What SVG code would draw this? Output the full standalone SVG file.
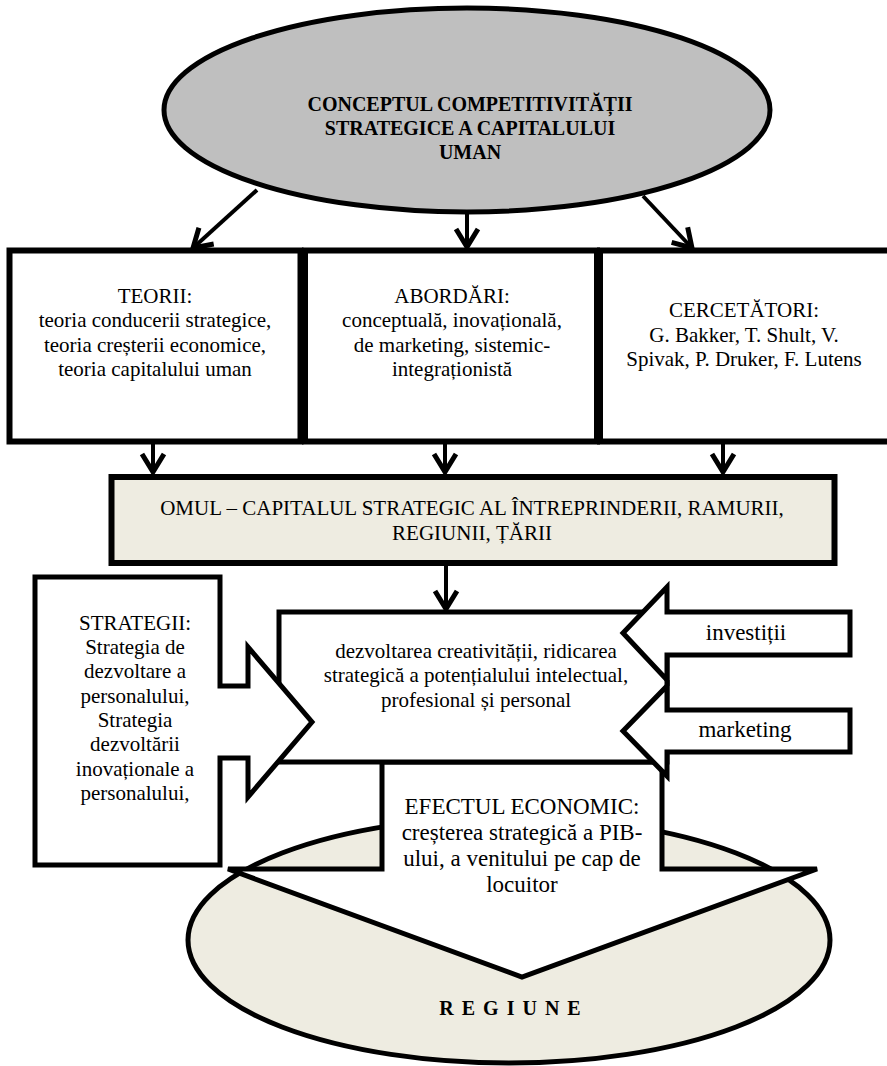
<svg xmlns="http://www.w3.org/2000/svg" width="887" height="1066" viewBox="0 0 887 1066">
<defs>
<style>
.t{font-family:"Liberation Serif","Times New Roman",serif;font-size:21px;fill:#000;text-anchor:middle}
.b{font-weight:bold;font-size:20px}
.big{font-size:23px}
.bx{fill:#fff;stroke:#000;stroke-width:6}
.sh{fill:#fff;stroke:#000;stroke-width:5;stroke-linejoin:miter}
.cn{fill:none;stroke:#000;stroke-width:4}
</style>
<marker id="ah" markerUnits="userSpaceOnUse" markerWidth="40" markerHeight="40" viewBox="-25 -20 40 40" refX="0" refY="0" orient="auto" overflow="visible">
<path d="M-18,-11 L0,0 L-18,11" fill="none" stroke="#000" stroke-width="5"/>
</marker>
</defs>
<rect width="887" height="1066" fill="#fff"/>

<g id="concept">
<ellipse cx="467" cy="110" rx="303" ry="102" fill="#bfbfbf" stroke="#000" stroke-width="5"/>
<text class="t b" x="470" y="111">CONCEPTUL COMPETITIVITĂȚII</text>
<text class="t b" x="470" y="135">STRATEGICE A CAPITALULUI</text>
<text class="t b" x="470" y="159">UMAN</text>
</g>

<g id="teorii">
<rect class="bx" x="9.5" y="250.5" width="291" height="191"/>
<text class="t" x="155" y="303">TEORII:</text>
<text class="t" x="155" y="327">teoria conducerii strategice,</text>
<text class="t" x="155" y="352">teoria creșterii economice,</text>
<text class="t" x="155" y="376">teoria capitalului uman</text>
</g>

<g id="abordari">
<rect class="bx" x="305" y="250.5" width="292" height="191"/>
<text class="t" x="452" y="303">ABORDĂRI:</text>
<text class="t" x="452" y="327">conceptuală, inovațională,</text>
<text class="t" x="452" y="352">de marketing, sistemic-</text>
<text class="t" x="452" y="376">integraționistă</text>
</g>

<g id="cercetatori">
<rect class="bx" x="600" y="250.5" width="295" height="191"/>
<text class="t" x="744" y="317">CERCETĂTORI:</text>
<text class="t" x="744" y="342">G. Bakker, T. Shult, V.</text>
<text class="t" x="744" y="366">Spivak, P. Druker, F. Lutens</text>
</g>

<g id="omul">
<rect x="111.5" y="477" width="723" height="86" fill="#eeece1" stroke="#000" stroke-width="6"/>
<text class="t" x="472" y="515">OMUL – CAPITALUL STRATEGIC AL ÎNTREPRINDERII, RAMURII,</text>
<text class="t" x="472" y="540">REGIUNII, ȚĂRII</text>
</g>

<g id="connectors">
<path class="cn" d="M257,190 L193,248" marker-end="url(#ah)"/>
<path class="cn" d="M467,212 V247" marker-end="url(#ah)"/>
<path class="cn" d="M643,196 L692,248" marker-end="url(#ah)"/>
<path class="cn" d="M153,444 V472" marker-end="url(#ah)"/>
<path class="cn" d="M445,444 V472" marker-end="url(#ah)"/>
<path class="cn" d="M723,444 V472" marker-end="url(#ah)"/>
<path class="cn" d="M446,566 V609" marker-end="url(#ah)"/>
</g>

<g id="regiune">
<ellipse cx="509" cy="940" rx="321" ry="123" fill="#eeece1" stroke="#000" stroke-width="5"/>
<text class="t b" x="514" y="1015" style="letter-spacing:8px">REGIUNE</text>
</g>

<g id="efect">
<path class="sh" d="M382,762 H662 V869 H817 L522,977 L228,869 H382 Z"/>
<text class="t big" x="522" y="814">EFECTUL ECONOMIC:</text>
<text class="t big" x="522" y="840">creșterea strategică a PIB-</text>
<text class="t big" x="522" y="866">ului, a venitului pe cap de</text>
<text class="t big" x="522" y="892">locuitor</text>
</g>

<g id="dezvoltare">
<rect class="sh" x="279" y="612" width="388" height="150"/>
<text class="t" x="476" y="658">dezvoltarea creativității, ridicarea</text>
<text class="t" x="476" y="682">strategică a potențialului intelectual,</text>
<text class="t" x="476" y="707">profesional și personal</text>
</g>

<g id="strategii">
<path class="sh" d="M35,577 H220 V686 H248 V647 L312,722 L248,797 V758 H220 V865 H35 Z"/>
<text class="t" x="135" y="630">STRATEGII:</text>
<text class="t" x="135" y="654">Strategia de</text>
<text class="t" x="135" y="678">dezvoltare a</text>
<text class="t" x="135" y="703">personalului,</text>
<text class="t" x="135" y="727">Strategia</text>
<text class="t" x="135" y="751">dezvoltării</text>
<text class="t" x="135" y="776">inovaționale a</text>
<text class="t" x="135" y="800">personalului,</text>
</g>

<g id="investitii">
<path class="sh" d="M850,612 V655 H667 V680 L623,633 L667,587 V612 Z"/>
<text class="t big" x="746" y="640">investiții</text>
</g>

<g id="marketing">
<path class="sh" d="M850,710 V752 H667 V776 L623,731 L667,686 V710 Z"/>
<text class="t big" x="745" y="737">marketing</text>
</g>
</svg>
